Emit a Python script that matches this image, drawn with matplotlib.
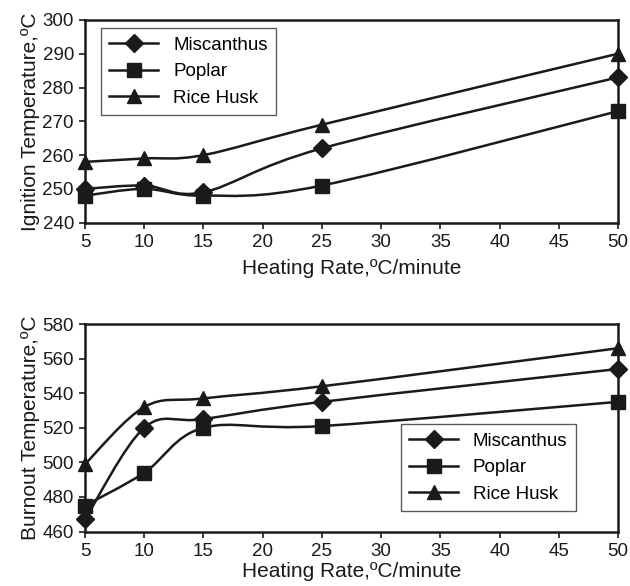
import matplotlib
matplotlib.use("Agg")
from matplotlib import pyplot as plt
from matplotlib.path import Path
from matplotlib.patches import PathPatch
from matplotlib.lines import Line2D

plt.rcParams['font.family'] = ['Liberation Sans', 'DejaVu Sans']

rates = [5, 10, 15, 25, 50]
series_names = ["Miscanthus", "Poplar", "Rice Husk"]
markers = ["D", "s", "^"]
marker_sizes = [9, 10, 10]

ignition_miscanthus = [250, 251, 249, 262, 283]
ignition_poplar = [248, 250, 248, 251, 273]
ignition_rice_husk = [258, 259, 260, 269, 290]

burnout_miscanthus = [467, 520, 525, 535, 554]
burnout_poplar = [475, 494, 520, 521, 535]
burnout_rice_husk = [499, 532, 537, 544, 566]

INK = '#1a1a1a'


def smooth_path(xs, ys):
    # Catmull-Rom turned into cubic Bezier segments (Excel-like smoothing)
    verts = [(xs[0], ys[0])]
    codes = [Path.MOVETO]
    n = len(xs)
    for i in range(n - 1):
        x0, y0 = (xs[i - 1], ys[i - 1]) if i > 0 else (xs[i], ys[i])
        x1, y1 = xs[i], ys[i]
        x2, y2 = xs[i + 1], ys[i + 1]
        x3, y3 = (xs[i + 2], ys[i + 2]) if i + 2 < n else (x2, y2)
        c1 = (x1 + (x2 - x0) / 6.0, y1 + (y2 - y0) / 6.0)
        c2 = (x2 - (x3 - x1) / 6.0, y2 - (y3 - y1) / 6.0)
        verts += [c1, c2, (x2, y2)]
        codes += [Path.CURVE4] * 3
    return Path(verts, codes)


def draw_panel(ax, data, ylim, yticks, ylabel, legend_loc, xpad):
    for vals, mk, ms in zip(data, markers, marker_sizes):
        ax.add_patch(PathPatch(smooth_path(rates, vals), facecolor='none',
                               edgecolor=INK, lw=1.8))
        ax.plot(rates, vals, linestyle='none', marker=mk, ms=ms,
                color=INK, clip_on=False, zorder=3)
    ax.set_xlim(5, 50)
    ax.set_ylim(*ylim)
    ax.set_xticks(range(5, 55, 5))
    ax.set_yticks(yticks)
    ax.tick_params(labelsize=13.5, width=1.2, length=4, pad=4, colors=INK)
    for sp in ax.spines.values():
        sp.set_linewidth(1.8)
        sp.set_color(INK)
    ax.set_xlabel("Heating Rate,ºC/minute", fontsize=15, labelpad=xpad, color=INK)
    ax.set_ylabel(ylabel, fontsize=15, labelpad=2, color=INK)
    handles = [Line2D([], [], color=INK, lw=1.8, marker=mk, ms=ms)
               for mk, ms in zip(markers, marker_sizes)]
    leg = ax.legend(handles, series_names, fontsize=13.5, handlelength=2.6,
                    frameon=True, fancybox=False, edgecolor='#333333',
                    borderpad=0.45, labelspacing=0.5, handletextpad=0.8,
                    borderaxespad=0, **legend_loc)
    leg.get_frame().set_linewidth(1.0)


fig = plt.figure(figsize=(6.3, 5.86), dpi=100)
ax1 = fig.add_axes([0.135, 0.620, 0.846, 0.346])
ax2 = fig.add_axes([0.135, 0.093, 0.846, 0.354])

draw_panel(ax1, [ignition_miscanthus, ignition_poplar, ignition_rice_husk],
           (240, 300), range(240, 301, 10), "Ignition Temperature,ºC",
           dict(loc='upper left', bbox_to_anchor=(0.03, 0.96)), 6)
draw_panel(ax2, [burnout_miscanthus, burnout_poplar, burnout_rice_husk],
           (460, 580), range(460, 581, 20), "Burnout Temperature,ºC",
           dict(loc='lower right', bbox_to_anchor=(0.921, 0.097)), 2)

fig.savefig("out.png", dpi=100)
